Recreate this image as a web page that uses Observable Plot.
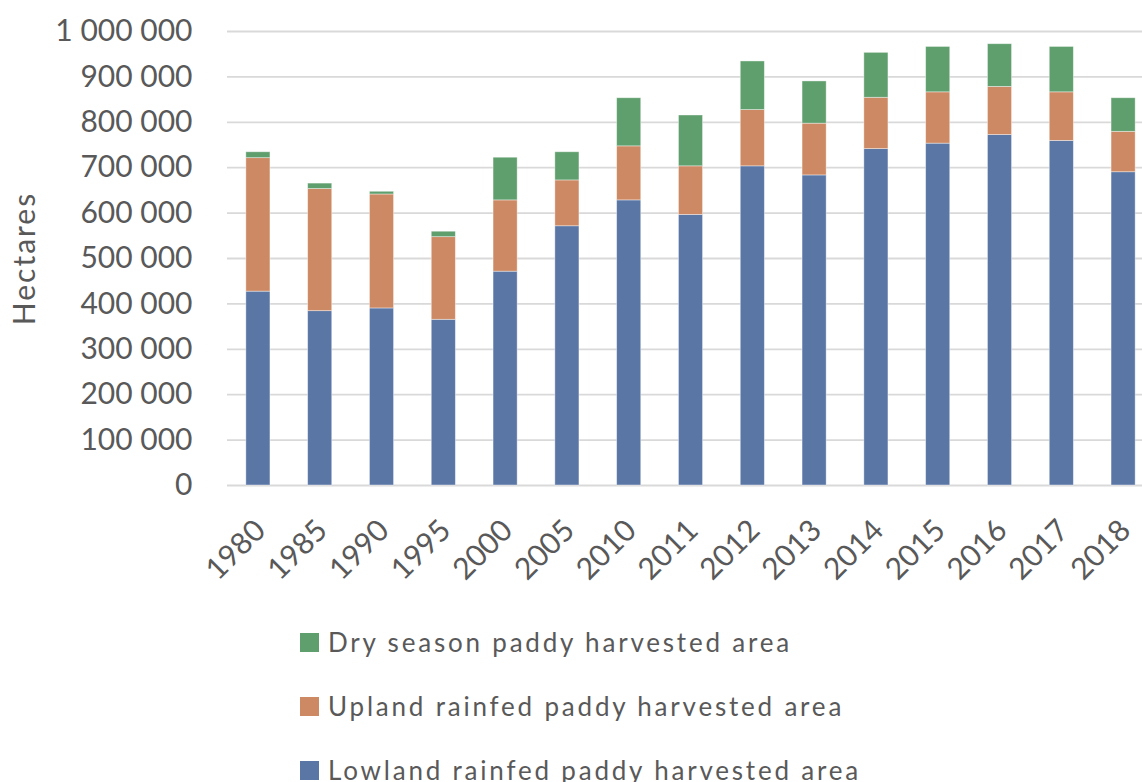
<!DOCTYPE html>
<html>
<head>
<meta charset="utf-8">
<script src="https://cdn.jsdelivr.net/npm/d3@7"></script>
<script src="https://cdn.jsdelivr.net/npm/@observablehq/plot@0.6"></script>
<style>
  html, body { margin: 0; padding: 0; background: #fff; }
  body { font-family: Lato, "Open Sans", sans-serif; color: #595959; width: 1142px; height: 782px; overflow: hidden; }
  #legend { margin-top: 10px; padding-left: 300px; }
  .row { display: flex; align-items: center; height: 64px; font-size: 26px; letter-spacing: 2.8px; color: #595959; }
  .sw { width: 19px; height: 19px; margin-right: 9px; flex: none; }
  #chart svg [aria-label="y-axis label"] text { letter-spacing: 2px; }
</style>
</head>
<body>
<div id="chart"></div>
<div id="legend"></div>
<script>
const years = ["1980","1985","1990","1995","2000","2005","2010","2011","2012","2013","2014","2015","2016","2017","2018"];
const lowland = [427000,384000,390000,365000,471000,571000,628000,596000,703000,683000,741000,753000,772000,759000,690000];
const upland  = [294000,269000,251000,182000,157000,101000,119000,107000,124000,114000,113000,113000,106000,107000,89000];
const dry     = [13000,12000,6000,12000,94000,62000,106000,112000,107000,93000,99000,100000,94000,100000,74000];
const seriesNames = ["Lowland rainfed paddy harvested area","Upland rainfed paddy harvested area","Dry season paddy harvested area"];
const seriesColors = ["#5A76A5","#CD8963","#5F9F6D"];
const yTicks = [0,100000,200000,300000,400000,500000,600000,700000,800000,900000,1000000];

const seriesValues = [lowland, upland, dry];
const data = [];
years.forEach((yr, i) => {
  seriesValues.forEach((vals, s) => data.push({year: yr, series: seriesNames[s], value: vals[i]}));
});

const fmt = v => d3.format(",")(v).replace(/,/g, " ");

const chart = Plot.plot({
  width: 1142,
  height: 600,
  marginLeft: 227,
  marginRight: -12,
  marginTop: 31,
  marginBottom: 115,
  style: {fontFamily: "Lato, 'Open Sans', sans-serif", color: "#595959", background: "#fff", overflow: "hidden"},
  x: {domain: years, paddingInner: 0.61, paddingOuter: 0.305, round: false},
  y: {domain: [0, 1000000]},
  color: {domain: seriesNames, range: seriesColors},
  marks: [
    Plot.gridY(yTicks, {stroke: "#d9d9d9", strokeOpacity: 1, strokeWidth: 1.8}),
    Plot.barY(data, {x: "year", y: "value", fill: "series", stroke: "#ffffff", strokeWidth: 0.8, strokeOpacity: 0.5}),
    Plot.axisY({ticks: yTicks, tickFormat: fmt, tickSize: 0, tickPadding: 35, fontSize: 30,
      label: "Hectares", labelAnchor: "center", labelArrow: "none", labelOffset: 214}),
    Plot.axisX({tickRotate: -45, tickSize: 0, tickPadding: 40, dx: 2, fontSize: 30, label: null})
  ]
});
document.getElementById("chart").appendChild(chart);

const legend = document.getElementById("legend");
[2,1,0].forEach(s => {
  const row = document.createElement("div");
  row.className = "row";
  const sw = document.createElement("span");
  sw.className = "sw";
  sw.style.background = seriesColors[s];
  const t = document.createElement("span");
  t.textContent = seriesNames[s];
  row.appendChild(sw); row.appendChild(t);
  legend.appendChild(row);
});
</script>
</body>
</html>
